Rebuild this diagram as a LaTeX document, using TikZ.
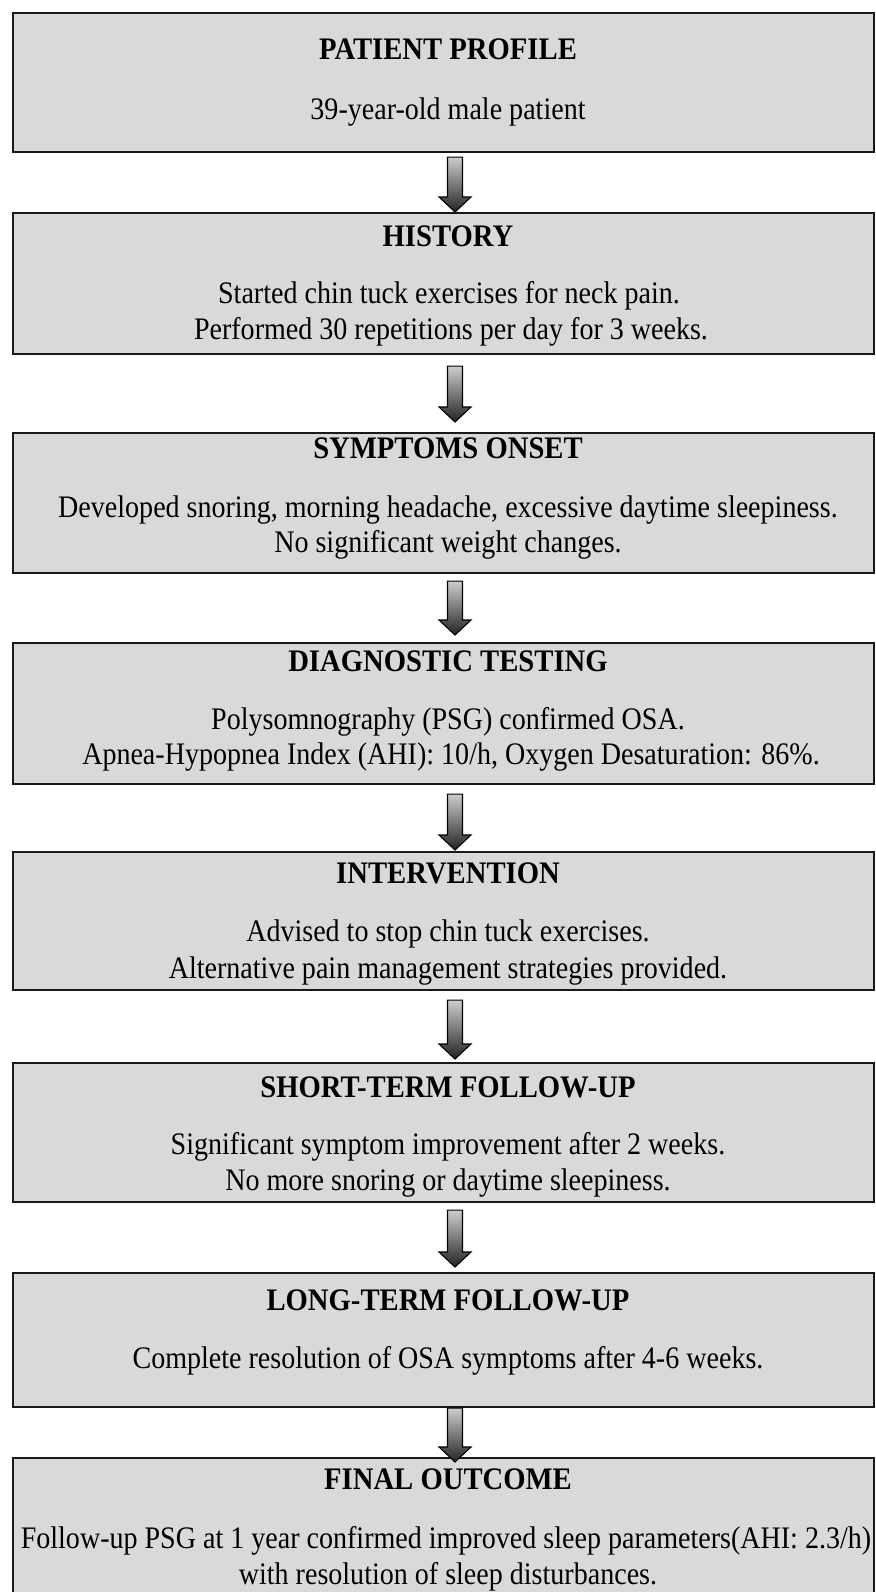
\documentclass[tikz,border=0pt]{standalone}
\usepackage{fontspec}
\setmainfont{Liberation Serif}[FakeStretch=0.895, BoldFeatures={FakeStretch=0.915}]
\usetikzlibrary{calc}
\definecolor{boxfill}{RGB}{217,217,217}
\definecolor{boxline}{RGB}{25,25,25}
\definecolor{arrtop}{RGB}{205,205,205}
\definecolor{arrbot}{RGB}{35,35,35}
\tikzset{
  flowbox/.style={draw=boxline, line width=1.6pt, fill=boxfill, rectangle, inner sep=0pt,
    anchor=north west, minimum width={861*0.75pt}},
  ttl/.style={anchor=base, inner sep=0pt, font=\fontsize{23.5}{26}\selectfont\bfseries},
  bdy/.style={anchor=base, inner sep=0pt, font=\fontsize{23.5}{26}\selectfont},
  blockarr/.style={draw=black, line width=0.8pt, top color=arrtop, bottom color=arrbot, line join=miter}
}
\newcommand{\barrow}[2]{%
  \path[blockarr] let \p1=(#1), \p2=(#2) in
    (\x1-5.625pt,\y1) -- (\x1+5.625pt,\y1) -- (\x1+5.625pt,\y2+11.25pt) --
    (\x1+12pt,\y2+11.25pt) -- (\x2,\y2) -- (\x1-12pt,\y2+11.25pt) --
    (\x1-5.625pt,\y2+11.25pt) -- cycle;}
\begin{document}
\begin{tikzpicture}[x=0.75pt, y=-0.75pt]
\useasboundingbox (0,0) rectangle (875,1592);
\clip (0,0) rectangle (875,1592);
\fill[white] (0,0) rectangle (875,1592);

% boxes
\node[flowbox, minimum height={139*0.75pt}] (b1) at (12,11.5) {};
\node[flowbox, minimum height={141*0.75pt}] (b2) at (12,211.5) {};
\node[flowbox, minimum height={140*0.75pt}] (b3) at (12,431.5) {};
\node[flowbox, minimum height={140.5*0.75pt}] (b4) at (12,642) {};
\node[flowbox, minimum height={138.5*0.75pt}] (b5) at (12,850.5) {};
\node[flowbox, minimum height={139.5*0.75pt}] (b6) at (12,1061.5) {};
\node[flowbox, minimum height={134*0.75pt}] (b7) at (12,1272) {};
\node[flowbox, minimum height={160*0.75pt}] (b8) at (12,1457) {};

% texts
\node[ttl] (t1) at (448,59) {PATIENT PROFILE};
\node[bdy] (l1a) at (448,119) {39-year-old male patient};

\node[ttl] (t2) at (448,246) {HISTORY};
\node[bdy] (l2a) at (449,303.5) {Started chin tuck exercises for neck pain.};
\node[bdy] (l2b) at (451,339) {Performed 30 repetitions per day for 3 weeks.};

\node[ttl] (t3) at (448,458.5) {SYMPTOMS ONSET};
\node[bdy] (l3a) at (448,517) {Developed snoring, morning headache, excessive daytime sleepiness.};
\node[bdy] (l3b) at (448,552.5) {No significant weight changes.};

\node[ttl] (t4) at (448,671.5) {DIAGNOSTIC TESTING};
\node[bdy] (l4a) at (448,729) {Polysomnography (PSG) confirmed OSA.};
\node[bdy] (l4b) at (451,764.5) {Apnea-Hypopnea Index (AHI): 10/h, Oxygen Desaturation: 86\%.};

\node[ttl] (t5) at (448,883.5) {INTERVENTION};
\node[bdy] (l5a) at (448,941.5) {Advised to stop chin tuck exercises.};
\node[bdy] (l5b) at (448,978) {Alternative pain management strategies provided.};

\node[ttl] (t6) at (448,1097) {SHORT-TERM FOLLOW-UP};
\node[bdy] (l6a) at (448,1154.5) {Significant symptom improvement after 2 weeks.};
\node[bdy] (l6b) at (448,1190) {No more snoring or daytime sleepiness.};

\node[ttl] (t7) at (448,1310) {LONG-TERM FOLLOW-UP};
\node[bdy] (l7a) at (448,1368) {Complete resolution of OSA symptoms after 4-6 weeks.};

\node[ttl] (t8) at (448,1489) {FINAL OUTCOME};
\node[bdy] (l8a) at (446,1548.5) {Follow-up PSG at 1 year confirmed improved sleep parameters(AHI: 2.3/h)};
\node[bdy] (l8b) at (448,1584) {with resolution of sleep disturbances.};

% arrows
\coordinate (ax) at (455,0);
\barrow{$(ax |- b1.south)+(0,4.5)$}{$(ax |- b2.north)+(0,0.5)$}
\barrow{$(ax |- b2.south)+(0,11.5)$}{$(ax |- b3.north)+(0,-9.5)$}
\barrow{$(ax |- b3.south)+(0,7.5)$}{$(ax |- b4.north)+(0,-7)$}
\barrow{$(ax |- b4.south)+(0,9.5)$}{$(ax |- b5.north)+(0,-0.5)$}
\barrow{$(ax |- b5.south)+(0,9)$}{$(ax |- b6.north)+(0,-2.5)$}
\barrow{$(ax |- b6.south)+(0,7)$}{$(ax |- b7.north)+(0,-5)$}
\barrow{$(ax |- b7.south)+(0,0)$}{$(ax |- b8.north)+(0,5)$}
\end{tikzpicture}
\end{document}
